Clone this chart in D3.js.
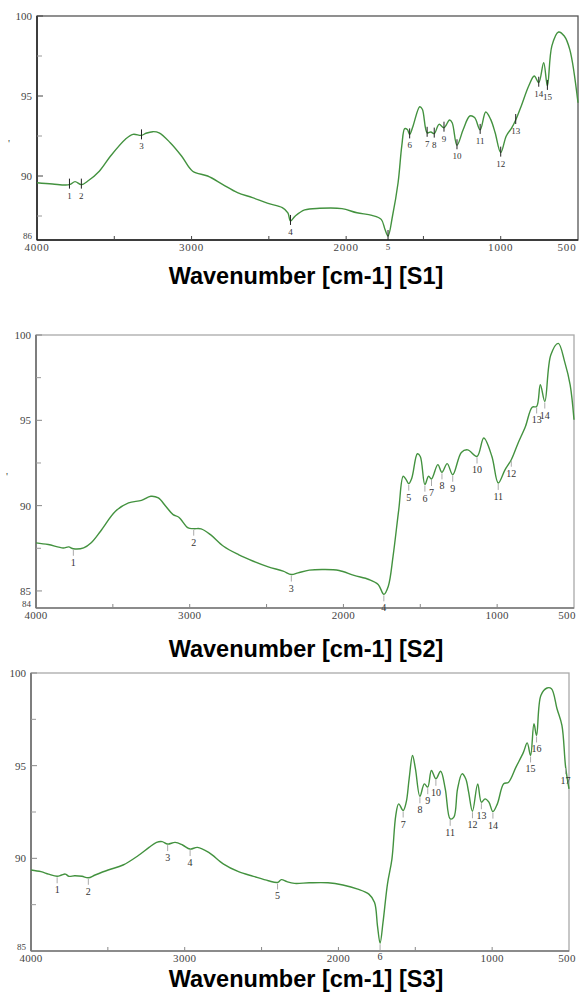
<!DOCTYPE html>
<head>
<meta charset="utf-8">
<script src="https://cdnjs.cloudflare.com/ajax/libs/d3/7.8.5/d3.min.js"></script>
<style>
  html, body { margin: 0; padding: 0; background: #fff; }
  svg { display: block; }
  .tick-lbl { font: 11px "Liberation Serif", "DejaVu Serif", serif; fill: #444; }
  .peak-lbl { font: 10px "Liberation Serif", "DejaVu Serif", serif; fill: #333; }
  .title { font: bold 23.5px "Liberation Sans", Arial, sans-serif; fill: #000; }
</style>
</head>
<body>
<svg id="chart" width="584" height="998"></svg>
<script>
// x tick labels (wavenumber) and tick marks
var xLabels = [4000, 3000, 2000, 1000, 500];
var xMarks = [3500, 3000, 2500, 2000, 1500, 1000];

// S1 spectrum
var s1Wn = [4000,3900,3790,3754,3713,3669,3597,3524,3428,3379,3324,3295,3251,3210,3138,3065,2993,2896,2800,2703,2606,2510,2413,2377,2360,2329,2268,2171,2027,1930,1833,1773,1749,1729,1700,1664,1640,1621,1604,1589,1568,1524,1507,1476,1452,1430,1399,1367,1331,1314,1283,1242,1200,1169,1133,1097,1065,1036,1000,964,928,903,867,819,783,754,722,698,669,626,589,553,500];
var s1T = [89.58,89.5,89.46,89.65,89.46,89.7,90.3,91.25,92.3,92.6,92.54,92.67,92.77,92.7,92.08,91.25,90.3,90.0,89.48,88.96,88.65,88.3,88.02,87.7,87.19,87.5,87.88,87.98,87.96,87.7,87.54,87.29,86.67,86.25,87.5,89.58,91.88,92.96,92.9,92.6,93.1,94.33,94.17,92.7,92.75,92.65,93.23,93.02,93.5,93.33,91.92,92.92,93.75,93.65,92.88,94.0,93.54,92.7,91.46,92.5,93.02,93.5,94.38,95.63,96.25,95.83,97.08,95.63,98.13,99.0,98.75,97.9,94.58];
var s1Peaks = [3790,3713,3324,2360,1729,1589,1476,1430,1367,1283,1133,1000,903,754,698];
var s1YLabels = [100, 95, 90, 86];

// S2 spectrum
var s2Wn = [4000,3920,3823,3787,3757,3690,3641,3580,3483,3398,3314,3253,3204,3156,3108,3071,3010,2974,2926,2865,2780,2683,2586,2489,2392,2339,2295,2222,2125,2028,1931,1834,1774,1737,1708,1677,1640,1611,1592,1575,1555,1519,1500,1470,1446,1427,1386,1359,1325,1289,1233,1192,1131,1087,1034,993,949,908,864,816,772,743,719,690,651,602,561,525,500];
var s2T = [87.82,87.72,87.52,87.58,87.47,87.52,87.82,88.5,89.67,90.16,90.31,90.55,90.45,89.96,89.47,89.32,88.69,88.65,88.64,88.3,87.62,87.13,86.74,86.41,86.16,85.96,86.06,86.22,86.26,86.2,85.91,85.67,85.38,84.8,85.28,87.04,89.77,91.72,91.52,91.29,91.62,93.04,92.88,91.23,91.72,91.56,92.4,91.95,92.46,91.81,93.12,93.27,92.88,93.96,92.88,91.33,92.1,92.69,93.66,94.64,95.77,95.81,97.08,96.1,98.83,99.51,98.44,97.08,95.03];
var s2Peaks = [3757,2974,2339,1737,1575,1470,1427,1359,1289,1131,993,908,743,690];
var s2YLabels = [100, 95, 90, 85, 84];

// S3 spectrum
var s3Wn = [4000,3935,3886,3830,3801,3777,3753,3716,3668,3627,3583,3498,3401,3304,3232,3183,3147,3111,3062,3014,2965,2917,2844,2747,2650,2553,2456,2396,2371,2335,2286,2190,2068,1971,1874,1802,1765,1746,1729,1710,1681,1652,1627,1608,1579,1559,1540,1518,1499,1470,1441,1419,1395,1366,1335,1305,1273,1249,1225,1196,1172,1153,1128,1094,1070,1046,1021,995,966,925,893,845,796,772,750,728,711,683,643,614,578,546,522,500];
var s3T = [89.37,89.28,89.15,89.03,89.1,89.15,89.03,89.06,89.03,88.95,89.1,89.37,89.64,90.14,90.59,90.86,90.9,90.77,90.86,90.72,90.5,90.59,90.32,89.69,89.28,89.03,88.79,88.7,88.85,88.74,88.65,88.68,88.68,88.56,88.34,88.07,87.62,86.36,85.42,86.54,88.61,89.96,92.31,92.94,92.58,93.03,94.29,95.55,94.83,93.35,94.02,93.84,94.74,94.29,94.7,93.75,92.13,92.22,93.75,94.56,94.29,93.57,92.54,94.02,93.03,93.21,93.03,92.52,92.94,94.02,94.11,94.92,95.73,96.23,95.55,97.26,96.63,98.79,99.19,99.15,98.07,97.17,94.92,93.75];
var s3Peaks = [3830,3627,3111,2965,2396,1729,1579,1470,1419,1366,1273,1128,1070,995,750,711,522];
var s3YLabels = [100, 95, 90, 85];

var minorY = [97.5, 92.5, 87.5];
var titles = ["Wavenumber [cm-1] [S1]", "Wavenumber [cm-1] [S2]", "Wavenumber [cm-1] [S3]"];

var svg = d3.select("#chart");

var panels = [
  {wn: s1Wn, t: s1T, peaks: s1Peaks, yl: s1YLabels, dom: [86, 100],
   x0: 37, x1: 578, y0: 16, y1: 240, titleY: 284, style: 1, stray: [8, 147]},
  {wn: s2Wn, t: s2T, peaks: s2Peaks, yl: s2YLabels, dom: [84, 100],
   x0: 36, x1: 574, y0: 335, y1: 608, titleY: 657, style: 2, stray: [6, 480]},
  {wn: s3Wn, t: s3T, peaks: s3Peaks, yl: s3YLabels, dom: [85, 100],
   x0: 31, x1: 569, y0: 673, y1: 951, titleY: 987, style: 2, stray: null}
];

panels.forEach(function(p, i) {
  var x = d3.scaleLinear().domain([4000, 500]).range([p.x0, p.x1]);
  var y = d3.scaleLinear().domain(p.dom).range([p.y1, p.y0]);
  var g = svg.append("g");

  // frame
  g.append("rect")
    .attr("x", p.x0).attr("y", p.y0)
    .attr("width", p.x1 - p.x0).attr("height", p.y1 - p.y0)
    .attr("fill", "none")
    .attr("stroke", p.style == 1 ? "#555" : "#aaa")
    .attr("stroke-width", 1.3);
  g.append("line")
    .attr("x1", p.x0).attr("x2", p.x0).attr("y1", p.y0).attr("y2", p.y1)
    .attr("stroke", p.style == 1 ? "#222" : "#666").attr("stroke-width", 1.5);
  g.append("line")
    .attr("x1", p.x0).attr("x2", p.x1).attr("y1", p.y1).attr("y2", p.y1)
    .attr("stroke", p.style == 1 ? "#222" : "#777").attr("stroke-width", 1.5);

  // y ticks, inward
  var tickCol = p.style == 1 ? "#444" : "#888";
  g.selectAll(".ymaj").data(p.yl.filter(function(v) { return v != p.dom[0]; }))
    .enter().append("line")
    .attr("x1", p.x0).attr("x2", p.x0 + 6)
    .attr("y1", function(d) { return y(d); }).attr("y2", function(d) { return y(d); })
    .attr("stroke", tickCol);
  g.selectAll(".ymin").data(minorY).enter().append("line")
    .attr("x1", p.x0).attr("x2", p.x0 + 5)
    .attr("y1", function(d) { return y(d); }).attr("y2", function(d) { return y(d); })
    .attr("stroke", "#999");
  // lowest label sits just above the x labels, as in the scan
  g.selectAll(".ylbl").data(p.yl).enter().append("text")
    .attr("class", "tick-lbl")
    .attr("x", p.x0 - 5)
    .attr("y", function(d) { return d == p.dom[0] ? y(d) - 1 : y(d) + 4; })
    .attr("text-anchor", "end")
    .style("font-size", function(d) { return d == p.dom[0] ? "9px" : null; })
    .text(function(d) { return d; });

  // x ticks, inward
  g.selectAll(".xm").data(xMarks).enter().append("line")
    .attr("x1", function(d) { return x(d); }).attr("x2", function(d) { return x(d); })
    .attr("y1", p.y1).attr("y2", p.y1 - 4)
    .attr("stroke", tickCol);
  g.selectAll(".xlbl").data(xLabels).enter().append("text")
    .attr("class", "tick-lbl")
    .attr("x", function(d) { return Math.min(x(d), 567); })
    .attr("y", p.y1 + 11)
    .attr("text-anchor", "middle")
    .style("letter-spacing", p.style == 1 ? "0.8px" : "0.3px")
    .text(function(d) { return d; });

  // spectrum
  var pts = p.wn.map(function(w, k) { return [w, p.t[k]]; });
  var line = d3.line()
    .x(function(d) { return x(d[0]); })
    .y(function(d) { return y(d[1]); })
    .curve(d3.curveCatmullRom.alpha(0.5));
  g.append("path").datum(pts)
    .attr("d", line)
    .attr("fill", "none")
    .attr("stroke", "#43923f")
    .attr("stroke-width", 1.4);

  // peak markers
  var at = function(w) {
    var k = p.wn.indexOf(w);
    if (k >= 0) return p.t[k];
    var i2 = d3.bisector(function(d) { return -d; }).left(p.wn, -w);
    var a = p.wn[i2 - 1], b = p.wn[i2];
    return p.t[i2 - 1] + (p.t[i2] - p.t[i2 - 1]) * (w - a) / (b - a);
  };
  p.peaks.forEach(function(w, k) {
    var px = x(w), py = y(at(w));
    if (p.style == 1) {
      g.append("line").attr("x1", px).attr("x2", px)
        .attr("y1", py - 6).attr("y2", py + 4)
        .attr("stroke", "#222").attr("stroke-width", 1);
    } else {
      g.append("line").attr("x1", px).attr("x2", px)
        .attr("y1", py + 1).attr("y2", py + 7)
        .attr("stroke", "#aaa").attr("stroke-width", 1);
    }
    g.append("text").attr("class", "peak-lbl")
      .attr("x", px).attr("y", py + (p.style == 1 ? 14 : 17))
      .attr("text-anchor", "middle")
      .style("font-size", p.style == 1 ? "9px" : "10px")
      .text(k + 1);
  });

  if (p.stray) {
    g.append("text").attr("class", "tick-lbl")
      .attr("x", p.stray[0]).attr("y", p.stray[1]).text("'");
  }

  svg.append("text").attr("class", "title")
    .attr("x", 306).attr("y", p.titleY)
    .attr("text-anchor", "middle")
    .text(titles[i]);
});
</script>
</body>
</html>
